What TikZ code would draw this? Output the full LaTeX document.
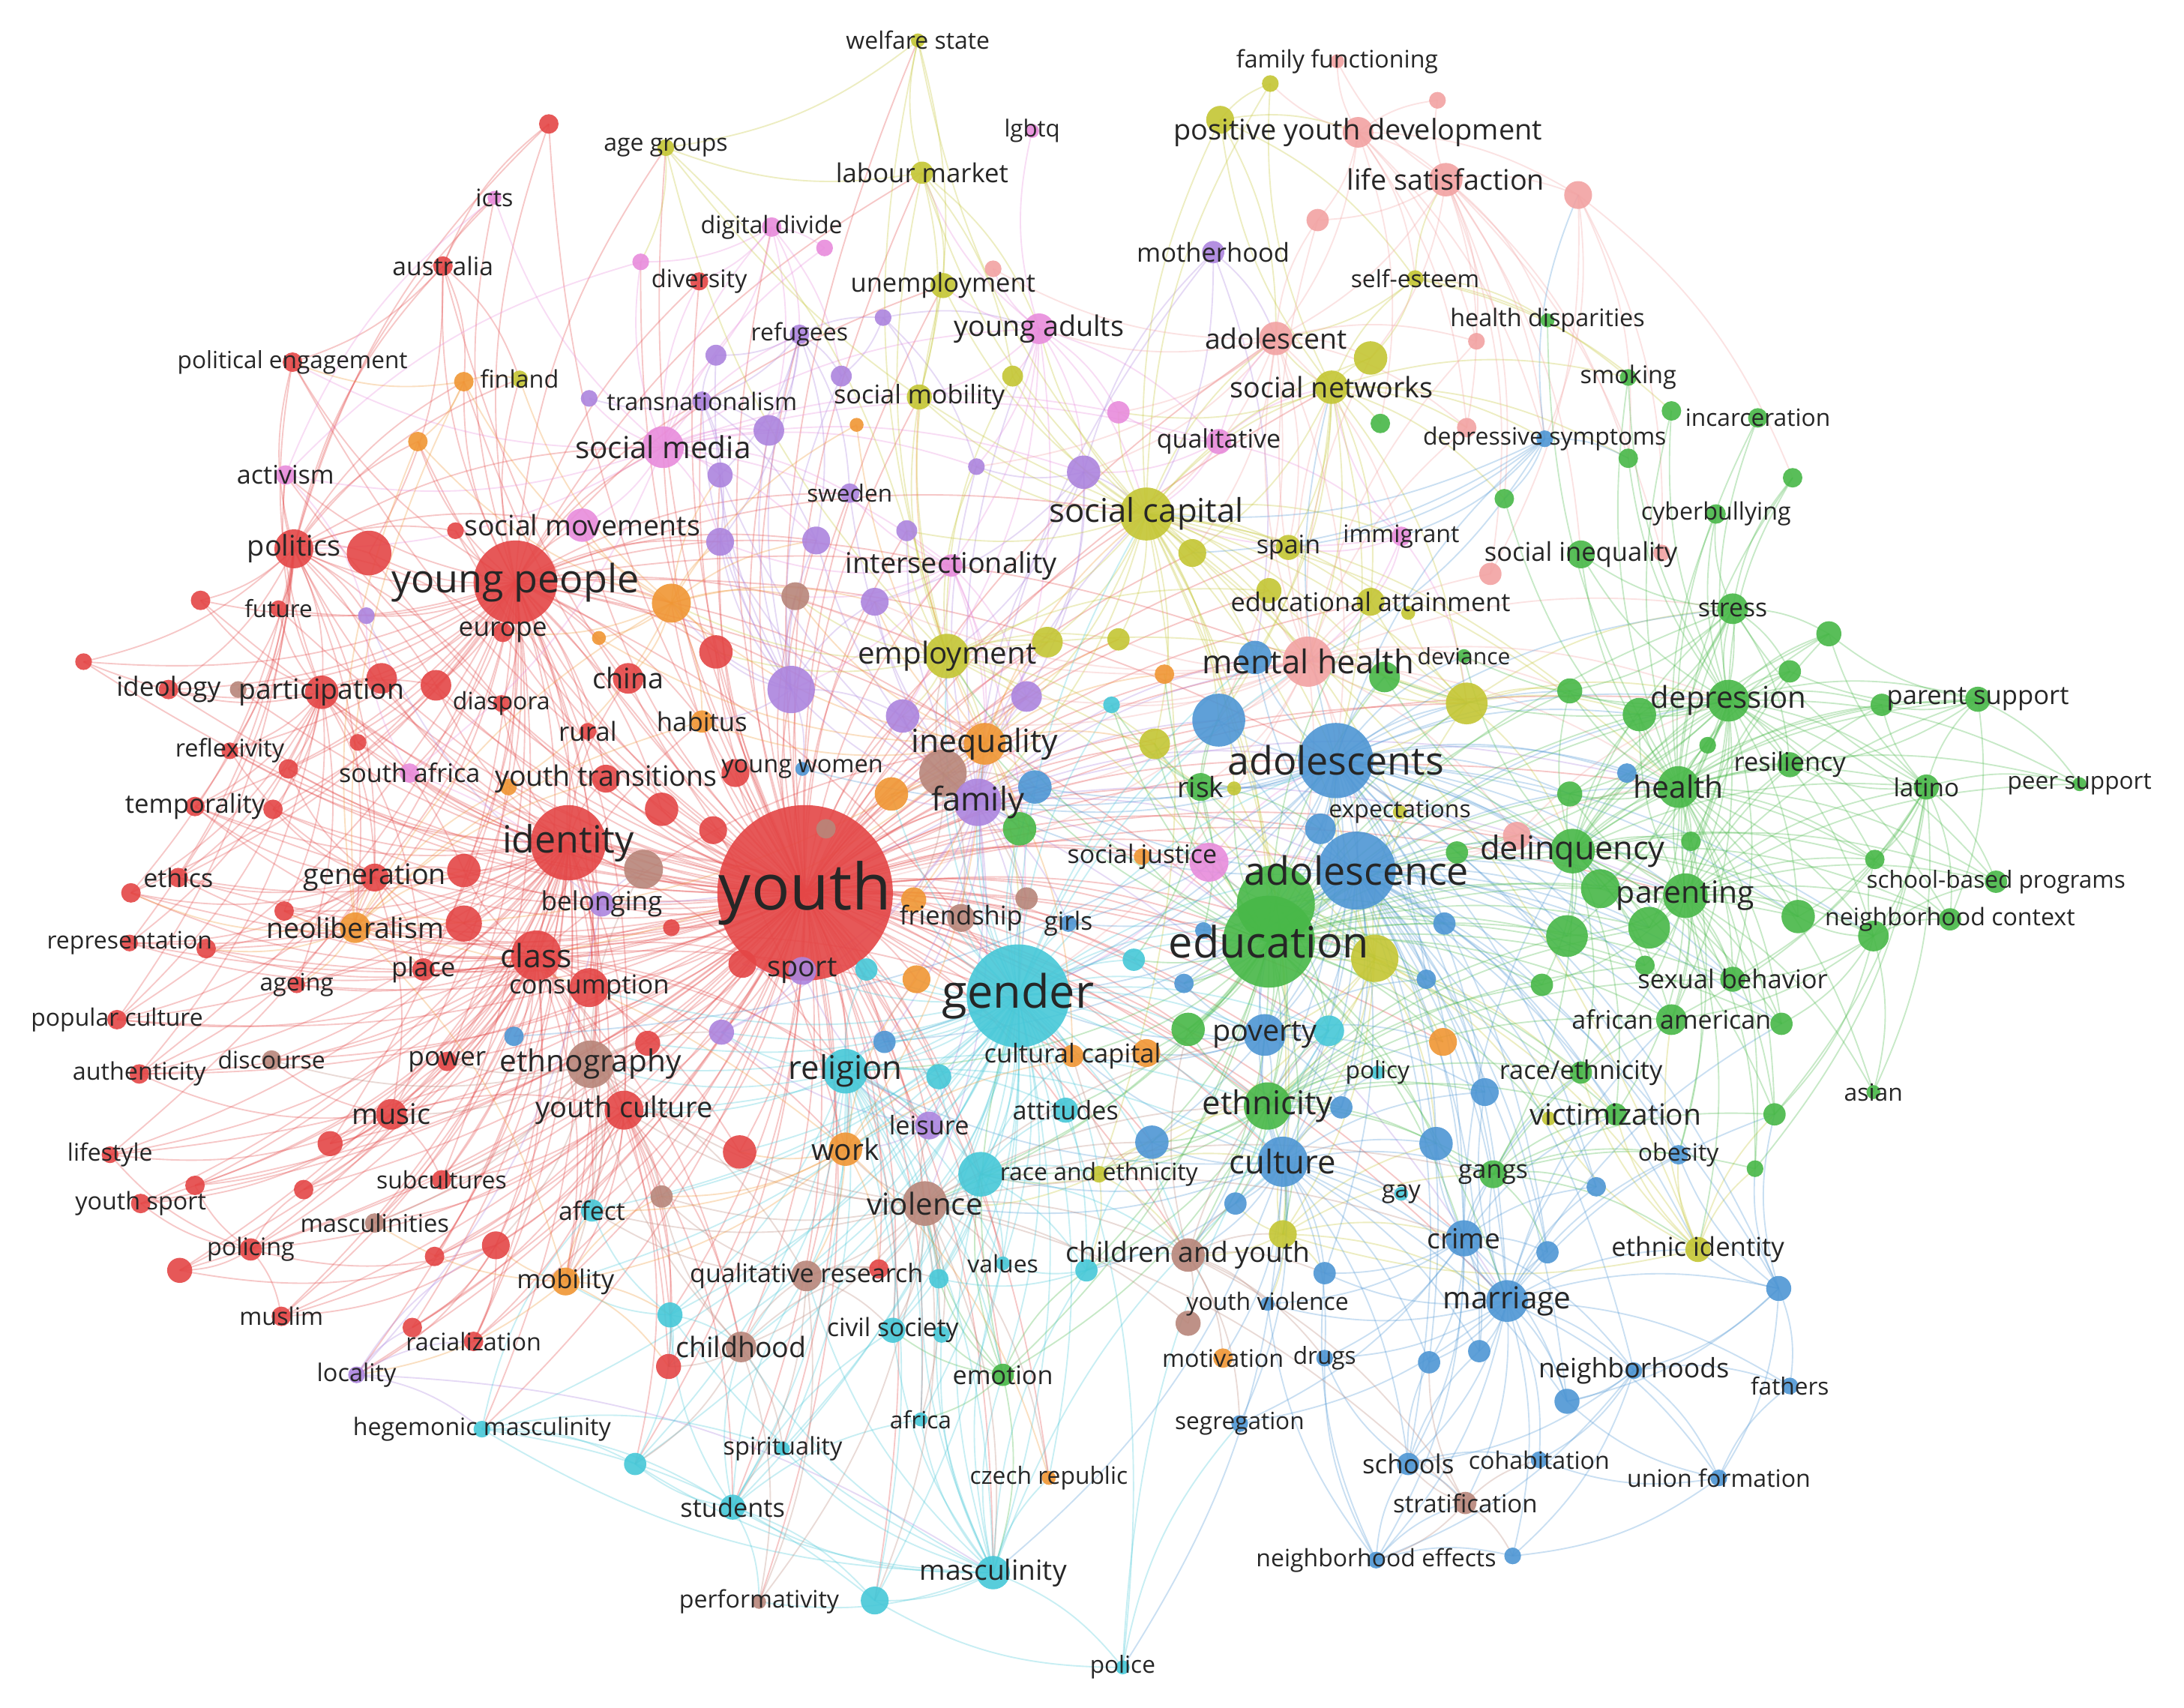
\documentclass[tikz,border=0pt]{standalone}
\usepackage{fontspec}
\setmainfont{Open Sans}
\pgfdeclarelayer{bg}\pgfdeclarelayer{edges}\pgfdeclarelayer{labels}
\pgfsetlayers{bg,edges,main,labels}
\definecolor{cR}{RGB}{228,70,70}
\definecolor{cG}{RGB}{72,184,72}
\definecolor{cB}{RGB}{78,150,212}
\definecolor{cY}{RGB}{196,198,52}
\definecolor{cP}{RGB}{172,132,222}
\definecolor{cC}{RGB}{70,200,216}
\definecolor{cO}{RGB}{240,150,52}
\definecolor{cBr}{RGB}{184,134,122}
\definecolor{cK}{RGB}{232,140,220}
\definecolor{cS}{RGB}{242,162,162}
\definecolor{labc}{RGB}{38,38,38}
\tikzset{
 kwdot/.style={circle,inner sep=0pt,draw=none,fill opacity=0.9},
 kwlab/.style={inner sep=0pt,text=labc},
 ed/.style={draw=#1,line width=1pt,draw opacity=0.3},
}
\newcommand\kwn[7]{\node[kwdot,fill=#4,minimum size=#5pt] (#1) at (#2,#3) {};
 \begin{pgfonlayer}{labels}\node[kwlab,font=\fontsize{#6}{#6}\selectfont] (#1-l) at (#2,#3) {#7};\end{pgfonlayer}}
\newcommand\kwu[5]{\node[kwdot,fill=#4,minimum size=#5pt] (#1) at (#2,#3) {};}
\newcommand\edfan[3]{\foreach \tg in {#3}{\draw[ed=#1] (#2.center) to[bend left=15] (\tg.center);}}
\begin{document}
\begin{tikzpicture}[x=1pt,y=-1pt]
\begin{pgfonlayer}{bg}
\fill[white] (0,0) rectangle (1568,1226);
\end{pgfonlayer}
\useasboundingbox (0,0) rectangle (1568,1226);
% ---------- big hubs first
\kwn{youth}{578}{641}{cR}{126}{46}{youth}
\kwn{gender}{731}{715}{cC}{74}{33}{gender}
\kwu{u101}{916}{649}{cG}{56}
\kwn{education}{911}{676}{cG}{66}{31}{education}
\kwn{adolescence}{974}{625}{cB}{56}{28}{adolescence}
\kwn{adolescents}{959}{546}{cB}{54}{28}{adolescents}
\kwn{youngpeople}{370}{418}{cR}{60}{28}{young people}
\kwn{identity}{408}{605}{cR}{54}{27}{identity}
% ---------- top
\kwn{welfare}{659}{29}{cY}{10}{17.2}{welfare state}
\kwn{agegroups}{478}{106}{cY}{12}{17.2}{age groups}
\kwn{lgbtq}{741}{94}{cK}{10}{16.8}{lgbtq}
\kwn{labour}{662}{124}{cY}{16}{18.7}{labour market}
\kwn{digital}{554}{163}{cK}{14}{17.3}{digital divide}
\kwu{u1}{592}{178}{cK}{12}
\kwu{u2}{460}{188}{cK}{12}
\kwn{diversity}{502}{202}{cR}{13}{17.5}{diversity}
\kwu{u3}{713}{193}{cS}{12}
\kwn{unemp}{677}{205}{cY}{18}{18.6}{unemployment}
\kwu{u4}{634}{228}{cP}{12}
\kwn{refugees}{574}{240}{cP}{14}{17.2}{refugees}
\kwu{u5}{514}{255}{cP}{15}
\kwn{youngadults}{746}{236}{cK}{22}{20.3}{young adults}
\kwu{u6}{604}{270}{cP}{15}
\kwu{u7}{727}{270}{cY}{15}
\kwn{socmob}{660}{285}{cY}{18}{18.5}{social mobility}
\kwu{u8}{423}{286}{cP}{12}
\kwn{transnat}{504}{288}{cP}{14}{17.4}{transnationalism}
\kwu{u9}{615}{305}{cO}{10}
\kwu{u10}{552}{309}{cP}{22}
\kwn{socmedia}{476}{321}{cK}{30}{21.8}{social media}
\kwu{u11}{517}{341}{cP}{18}
\kwu{u12}{701}{335}{cP}{12}
\kwu{u13}{778}{339}{cP}{24}
\kwn{sweden}{610}{354}{cP}{14}{17}{sweden}
\kwn{socmov}{418}{377}{cK}{24}{20.2}{social movements}
\kwu{u14}{517}{389}{cP}{20}
\kwu{u15}{586}{388}{cP}{20}
\kwu{u16}{651}{381}{cP}{15}
\kwn{intersect}{683}{406}{cK}{16}{20.4}{intersectionality}
% ---------- top left
\kwu{u17}{394}{89}{cR}{14}
\kwn{icts}{355}{142}{cK}{10}{17.3}{icts}
\kwn{australia}{318}{191}{cR}{14}{18.1}{australia}
\kwn{polengage}{210}{260}{cR}{14}{17}{political engagement}
\kwu{u18}{333}{274}{cO}{14}
\kwn{finland}{373}{272}{cY}{12}{17.4}{finland}
\kwu{u19}{300}{317}{cO}{14}
\kwn{activism}{205}{341}{cK}{14}{18.4}{activism}
\kwu{u20}{327}{381}{cR}{12}
\kwn{politics}{211}{394}{cR}{28}{20.4}{politics}
\kwu{u21}{265}{397}{cR}{32}
% ---------- top right
\kwn{famfunc}{960}{44}{cS}{10}{17.3}{family functioning}
\kwu{u22}{912}{60}{cY}{12}
\kwu{u23}{1032}{72}{cS}{12}
\kwu{u24}{876}{86}{cY}{20}
\kwn{pyd}{975}{95}{cS}{22}{20.4}{positive youth development}
\kwn{lifesat}{1038}{129}{cS}{24}{20.3}{life satisfaction}
\kwu{u25}{1133}{140}{cS}{20}
\kwu{u26}{946}{158}{cS}{16}
\kwn{motherhood}{871}{181}{cP}{16}{18.6}{motherhood}
\kwn{selfesteem}{1016}{200}{cY}{12}{17.1}{self-esteem}
\kwn{healthdisp}{1111}{230}{cG}{10}{17.4}{health disparities}
\kwu{u27}{1060}{245}{cS}{12}
\kwn{adolescent}{916}{243}{cS}{24}{20.1}{adolescent}
\kwu{u28}{984}{257}{cY}{24}
\kwn{socnet}{956}{278}{cY}{24}{20.3}{social networks}
\kwu{u29}{991}{304}{cG}{14}
\kwu{u30}{803}{296}{cK}{16}
\kwn{qualitative}{875}{317}{cK}{18}{18.3}{qualitative}
\kwu{u31}{1053}{307}{cS}{14}
\kwn{depsym}{1109}{315}{cB}{12}{17.2}{depressive symptoms}
\kwu{u32}{1080}{358}{cG}{14}
\kwn{soccap}{823}{369}{cY}{38}{23.5}{social capital}
\kwu{u33}{856}{397}{cY}{20}
\kwn{spain}{925}{393}{cY}{18}{18.3}{spain}
\kwn{immigrant}{1006}{385}{cK}{14}{17.3}{immigrant}
\kwn{socineq}{1135}{398}{cG}{20}{18.6}{social inequality}
\kwn{smoking}{1169}{271}{cG}{12}{17.5}{smoking}
\kwu{u34}{1200}{295}{cG}{14}
\kwn{incarc}{1262}{300}{cG}{14}{17.1}{incarceration}
\kwu{u35}{1287}{343}{cG}{14}
\kwn{cyberb}{1232}{369}{cG}{14}{17.3}{cyberbullying}
\kwu{u36}{1169}{329}{cG}{14}
\kwu{u37}{1193}{397}{cS}{12}
\kwu{u38}{1070}{412}{cS}{16}
% ---------- left
\kwu{u39}{144}{431}{cR}{14}
\kwn{future}{200}{437}{cR}{12}{17}{future}
\kwu{u40}{263}{442}{cP}{12}
\kwn{europe}{361}{454}{cR}{14}{19}{europe}
\kwu{u41}{60}{475}{cR}{12}
\kwn{ideology}{121}{495}{cR}{14}{19}{ideology}
\kwu{u42}{171}{495}{cBr}{12}
\kwn{particip}{231}{497}{cR}{24}{20.1}{participation}
\kwu{u43}{274}{487}{cR}{22}
\kwu{u44}{313}{492}{cR}{22}
\kwn{diaspora}{360}{505}{cR}{12}{17.2}{diaspora}
\kwu{u45}{257}{533}{cR}{12}
\kwn{reflex}{165}{539}{cR}{12}{17.5}{reflexivity}
\kwu{u46}{207}{552}{cR}{14}
\kwn{southafrica}{294}{555}{cK}{14}{18.4}{south africa}
\kwu{u47}{365}{565}{cO}{12}
\kwn{temporality}{140}{579}{cR}{14}{18.7}{temporality}
\kwu{u48}{196}{581}{cR}{14}
\kwu{u49}{333}{625}{cR}{24}
\kwn{ethics}{128}{630}{cR}{14}{18.3}{ethics}
\kwu{u50}{94}{641}{cR}{14}
\kwn{generation}{269}{630}{cR}{20}{20.3}{generation}
\kwu{u51}{204}{654}{cR}{14}
\kwn{neolib}{255}{666}{cO}{22}{20.2}{neoliberalism}
\kwu{u52}{333}{663}{cR}{26}
\kwn{repres}{93}{677}{cR}{12}{17.2}{representation}
\kwu{u53}{148}{681}{cR}{14}
\kwn{place}{304}{696}{cR}{16}{18.7}{place}
\kwn{ageing}{213}{707}{cR}{12}{17.2}{ageing}
\kwn{popcult}{84}{732}{cR}{14}{17.2}{popular culture}
\kwu{u54}{369}{744}{cB}{14}
\kwn{power}{321}{762}{cR}{14}{19}{power}
\kwn{discourse}{195}{761}{cBr}{14}{17.2}{discourse}
\kwn{authent}{100}{771}{cR}{14}{17.4}{authenticity}
\kwn{music}{281}{800}{cR}{22}{20.4}{music}
\kwn{class}{385}{686}{cR}{36}{23}{class}
% ---------- centre
\kwu{u55}{482}{433}{cO}{28}
\kwu{u56}{571}{428}{cBr}{20}
\kwu{u57}{628}{432}{cP}{20}
\kwu{u58}{430}{458}{cO}{10}
\kwu{u59}{514}{468}{cR}{24}
\kwn{china}{451}{487}{cR}{22}{20.3}{china}
\kwu{u60}{568}{495}{cP}{34}
\kwu{u61}{648}{514}{cP}{24}
\kwu{u62}{737}{500}{cP}{22}
\kwn{employment}{680}{471}{cY}{32}{21.7}{employment}
\kwu{u63}{752}{461}{cY}{22}
\kwn{habitus}{504}{518}{cO}{16}{18.7}{habitus}
\kwn{rural}{422}{525}{cR}{12}{18.8}{rural}
\kwu{u64}{528}{555}{cR}{20}
\kwn{youthtrans}{435}{559}{cR}{20}{20.2}{youth transitions}
\kwn{youngwomen}{576}{552}{cB}{10}{17.5}{young women}
\kwu{u65}{677}{555}{cBr}{34}
\kwn{inequality}{707}{534}{cO}{30}{23}{inequality}
\kwu{u66}{640}{570}{cO}{24}
\kwu{u67}{743}{565}{cB}{24}
\kwn{family}{702}{576}{cP}{34}{23.5}{family}
\kwu{u68}{732}{595}{cG}{24}
\kwu{u69}{475}{581}{cR}{24}
\kwu{u70}{512}{596}{cR}{20}
\kwu{u71}{593}{595}{cBr}{14}
\kwu{u72}{462}{624}{cBr}{28}
\kwn{belonging}{432}{649}{cP}{18}{18.9}{belonging}
\kwu{u73}{482}{666}{cR}{12}
\kwu{u74}{656}{646}{cO}{18}
\kwn{friendship}{690}{659}{cBr}{20}{18.6}{friendship}
\kwu{u75}{737}{645}{cBr}{16}
\kwn{girls}{767}{663}{cB}{12}{18}{girls}
\kwu{u76}{533}{692}{cR}{20}
\kwn{sport}{576}{697}{cP}{20}{20.4}{sport}
\kwn{consumption}{423}{709}{cR}{28}{18.7}{consumption}
\kwu{u77}{622}{696}{cC}{16}
\kwu{u78}{658}{703}{cO}{20}
\kwu{u79}{518}{741}{cP}{18}
\kwu{u80}{465}{749}{cR}{18}
\kwu{u81}{635}{748}{cB}{16}
\kwn{ethnography}{424}{764}{cBr}{34}{21.8}{ethnography}
\kwn{religion}{607}{769}{cC}{32}{23.5}{religion}
\kwu{u82}{674}{773}{cC}{18}
\kwn{culturalcap}{770}{758}{cO}{16}{18.6}{cultural capital}
\kwn{youthculture}{448}{797}{cR}{28}{20.5}{youth culture}
\kwn{leisure}{667}{808}{cP}{20}{18.5}{leisure}
\kwn{attitudes}{765}{797}{cC}{18}{18.4}{attitudes}
% ---------- centre right
\kwu{u83}{911}{424}{cY}{18}
\kwn{eduattain}{984}{432}{cY}{20}{18.5}{educational attainment}
\kwu{u84}{1011}{440}{cY}{10}
\kwu{u85}{803}{459}{cY}{16}
\kwu{u86}{901}{472}{cB}{24}
\kwn{mentalhealth}{939}{475}{cS}{36}{23.5}{mental health}
\kwn{deviance}{1051}{471}{cG}{10}{16.2}{deviance}
\kwu{u87}{994}{486}{cG}{22}
\kwu{u88}{836}{484}{cO}{14}
\kwu{u89}{798}{506}{cC}{12}
\kwu{u90}{1053}{505}{cY}{30}
\kwu{u91}{875}{517}{cB}{38}
\kwu{u92}{829}{534}{cY}{22}
\kwn{risk}{862}{565}{cG}{20}{20}{risk}
\kwu{u93}{886}{566}{cY}{10}
\kwu{u94}{1127}{496}{cG}{18}
\kwu{u95}{1168}{555}{cB}{14}
\kwu{u96}{1127}{570}{cG}{18}
\kwn{expectations}{1005}{583}{cY}{10}{17.2}{expectations}
\kwu{u97}{948}{595}{cB}{22}
\kwu{u98}{868}{619}{cK}{28}
\kwn{socjustice}{820}{615}{cO}{12}{18.3}{social justice}
\kwu{u99}{1089}{600}{cS}{20}
\kwu{u100}{1046}{612}{cG}{16}
\kwn{delinquency}{1129}{611}{cG}{32}{23.4}{delinquency}
\kwu{u102}{1149}{638}{cG}{28}
\kwu{u103}{1037}{663}{cB}{16}
\kwu{u104}{987}{688}{cY}{34}
\kwu{u105}{814}{689}{cC}{16}
\kwu{u106}{864}{668}{cB}{12}
\kwu{u107}{1125}{672}{cG}{30}
\kwu{u108}{1107}{707}{cG}{16}
\kwu{u109}{850}{706}{cB}{14}
\kwu{u110}{1024}{703}{cB}{14}
\kwu{u111}{853}{739}{cG}{24}
\kwn{poverty}{908}{743}{cB}{30}{21.3}{poverty}
\kwu{u112}{954}{740}{cC}{22}
\kwu{u113}{1036}{748}{cO}{20}
\kwu{u114}{823}{756}{cO}{20}
\kwn{policy}{989}{770}{cC}{10}{17}{policy}
\kwu{u115}{1066}{784}{cB}{20}
\kwn{ethnicity}{910}{794}{cG}{34}{23.5}{ethnicity}
\kwu{u116}{963}{795}{cB}{16}
\kwn{raceeth}{1135}{770}{cG}{16}{18.5}{race/ethnicity}
\kwn{victim}{1160}{800}{cG}{16}{21}{victimization}
\kwu{u117}{1112}{803}{cY}{10}
\kwu{u118}{1177}{513}{cG}{24}
% ---------- right
\kwn{stress}{1244}{437}{cG}{22}{18.2}{stress}
\kwu{u119}{1313}{455}{cG}{18}
\kwu{u120}{1285}{482}{cG}{16}
\kwn{depression}{1241}{503}{cG}{30}{21.6}{depression}
\kwu{u122}{1226}{535}{cG}{12}
\kwu{u123}{1351}{506}{cG}{16}
\kwn{parentsupport}{1420}{502}{cG}{18}{18.6}{parent support}
\kwn{resiliency}{1285}{549}{cG}{18}{18.5}{resiliency}
\kwn{health}{1205}{565}{cG}{30}{22}{health}
\kwn{latino}{1383}{565}{cG}{18}{17.9}{latino}
\kwn{peersupport}{1493}{563}{cG}{10}{17}{peer support}
\kwu{u124}{1214}{604}{cG}{14}
\kwu{u125}{1346}{617}{cG}{14}
\kwn{schoolbased}{1433}{633}{cG}{16}{17}{school-based programs}
\kwn{parenting}{1210}{643}{cG}{32}{22}{parenting}
\kwu{u126}{1184}{666}{cG}{30}
\kwu{u127}{1291}{658}{cG}{24}
\kwn{neighcontext}{1400}{660}{cG}{16}{17.3}{neighborhood context}
\kwu{u128}{1345}{672}{cG}{22}
\kwn{sexbeh}{1244}{703}{cG}{18}{18.6}{sexual behavior}
\kwu{u129}{1181}{693}{cG}{14}
\kwn{afram}{1200}{732}{cG}{22}{18.3}{african american}
\kwu{u130}{1279}{735}{cG}{16}
\kwn{asian}{1345}{784}{cG}{10}{17.1}{asian}
\kwu{u131}{1274}{800}{cG}{16}
% ---------- bottom left
\kwn{lifestyle}{79}{829}{cR}{12}{17.2}{lifestyle}
\kwu{u132}{237}{821}{cR}{18}
\kwu{u133}{140}{851}{cR}{14}
\kwu{u134}{218}{854}{cR}{14}
\kwn{youthsport}{101}{864}{cR}{14}{17.4}{youth sport}
\kwn{subcult}{317}{847}{cR}{14}{17.2}{subcultures}
\kwn{masculinities}{269}{878}{cBr}{14}{17.6}{masculinities}
\kwn{policing}{180}{897}{cR}{16}{17.4}{policing}
\kwu{u135}{129}{912}{cR}{18}
\kwu{u136}{356}{894}{cR}{20}
\kwu{u137}{312}{902}{cR}{14}
\kwn{muslim}{202}{945}{cR}{14}{17.4}{muslim}
\kwu{u138}{296}{953}{cR}{14}
\kwn{racial}{340}{963}{cR}{14}{17.4}{racialization}
\kwn{locality}{256}{987}{cP}{12}{17.5}{locality}
\kwn{hegemas}{346}{1026}{cC}{12}{17.3}{hegemonic masculinity}
% ---------- bottom centre
\kwn{work}{607}{825}{cO}{24}{21}{work}
\kwu{u139}{531}{827}{cR}{24}
\kwu{u140}{704}{843}{cC}{32}
\kwn{raceandeth}{789}{843}{cY}{12}{17.2}{race and ethnicity}
\kwu{u141}{475}{859}{cBr}{16}
\kwn{affect}{425}{869}{cC}{16}{18.2}{affect}
\kwn{violence}{664}{864}{cBr}{32}{21.7}{violence}
\kwn{mobility}{406}{920}{cO}{20}{18.6}{mobility}
\kwn{qualres}{579}{916}{cBr}{22}{18.3}{qualitative research}
\kwu{u142}{631}{911}{cR}{14}
\kwu{u143}{674}{918}{cC}{14}
\kwn{values}{720}{907}{cC}{10}{17.2}{values}
\kwu{u144}{780}{912}{cC}{16}
\kwu{u145}{481}{944}{cC}{18}
\kwn{civilsoc}{641}{955}{cC}{18}{18.1}{civil society}
\kwu{u146}{676}{958}{cC}{12}
\kwn{childhood}{532}{967}{cBr}{22}{20.2}{childhood}
\kwu{u147}{480}{981}{cR}{18}
\kwn{emotion}{720}{987}{cG}{16}{18.4}{emotion}
\kwn{africa}{661}{1019}{cC}{10}{17.1}{africa}
\kwu{u148}{456}{1051}{cC}{16}
\kwn{spirit}{562}{1040}{cC}{10}{17.5}{spirituality}
\kwn{czech}{753}{1061}{cO}{10}{17.1}{czech republic}
\kwn{students}{526}{1082}{cC}{18}{18.5}{students}
\kwn{masculinity}{713}{1129}{cC}{24}{20}{masculinity}
\kwu{u149}{628}{1149}{cC}{20}
\kwn{perform}{545}{1150}{cBr}{10}{17.3}{performativity}
% ---------- bottom right
\kwn{culture}{921}{834}{cB}{36}{23.5}{culture}
\kwu{u150}{827}{820}{cB}{24}
\kwu{u151}{1031}{821}{cB}{24}
\kwn{gangs}{1072}{843}{cG}{20}{18.2}{gangs}
\kwn{gay}{1006}{857}{cC}{10}{17.3}{gay}
\kwu{u152}{1146}{852}{cB}{14}
\kwu{u153}{887}{864}{cB}{16}
\kwu{u154}{921}{886}{cY}{20}
\kwn{childyouth}{853}{901}{cBr}{24}{20}{children and youth}
\kwn{crime}{1051}{889}{cB}{26}{20}{crime}
\kwu{u155}{1111}{899}{cB}{16}
\kwu{u156}{951}{914}{cB}{16}
\kwn{youthviol}{910}{936}{cB}{10}{17.2}{youth violence}
\kwn{marriage}{1082}{934}{cB}{30}{21.8}{marriage}
\kwu{u157}{853}{950}{cBr}{18}
\kwn{motivation}{878}{975}{cO}{14}{17.4}{motivation}
\kwn{drugs}{951}{975}{cB}{12}{17}{drugs}
\kwu{u158}{1026}{978}{cB}{16}
\kwu{u159}{1062}{970}{cB}{16}
\kwn{neighborhoods}{1173}{984}{cB}{12}{19.2}{neighborhoods}
\kwu{u160}{1125}{1006}{cB}{18}
\kwn{segregation}{890}{1022}{cB}{12}{17}{segregation}
\kwn{schools}{1011}{1051}{cB}{16}{18.8}{schools}
\kwn{cohab}{1105}{1048}{cB}{12}{17.3}{cohabitation}
\kwn{strat}{1052}{1079}{cBr}{16}{17.8}{stratification}
\kwn{neigheff}{988}{1120}{cB}{12}{17.2}{neighborhood effects}
\kwu{u161}{1086}{1117}{cB}{12}
\kwn{police}{806}{1197}{cC}{10}{17}{police}
\kwn{obesity}{1205}{829}{cB}{14}{17.2}{obesity}
\kwu{u162}{1260}{839}{cG}{12}
\kwn{ethnicid}{1219}{897}{cY}{18}{18.7}{ethnic identity}
\kwu{u163}{1277}{925}{cB}{18}
\kwn{fathers}{1285}{995}{cB}{12}{17}{fathers}
\kwn{unionform}{1234}{1061}{cB}{12}{17.3}{union formation}
% ================= edges
\begin{pgfonlayer}{edges}
% red
\edfan{cR}{youth}{youngpeople,identity,class,politics,u21,particip,generation,neolib,u52,u49,china,u59,u64,youthtrans,u69,u70,consumption,u76,u80,youthculture,music,ethnography,place,power,ageing,discourse,authent,popcult,repres,ethics,temporality,reflex,ideology,future,europe,diaspora,rural,habitus,u55,u56,u57,u60,u61,employment,inequality,family,gender,education,adolescents,adolescence,religion,work,violence,childhood,qualres,mobility,affect,subcult,masculinities,policing,muslim,racial,u136,u139,u147,socmedia,socmov,socmob,labour,unemp,diversity,australia,polengage,activism,lifestyle,youthsport,leisure,sport,friendship,culturalcap,soccap,mentalhealth,intersect,poverty,ethnicity,culture,childyouth,delinquency,health,marriage,masculinity,students,civilsoc,u105,u98,u92,u91,u86,u85,u83,u63,u62,u67,u68,u65,u66,u74,u75,u78,u77,u79,u81,u82,u140,u141,u145,u148,u132,u133,u134,u135,u137,u138,u39,u41,u42,u43,u44,u45,u46,u48,u50,u51,u53,u54,u17,u18,u19,u20,u47,belonging,southafrica,youngwomen,girls,attitudes,hegemas,locality,spirit,perform,u72,u73,transnat,refugees,u10,u11,u14,u15,u16,sweden,agegroups,welfare,u2,digital,u142,u143,values,emotion,africa,czech,u149,u114,u113,u112,u111,u150,crime,depression,parenting,u104,u90,adolescent,socnet,u33,spain,eduattain,risk,u97,socjustice,u109,u106}
\edfan{cR}{youngpeople}{identity,class,politics,u21,particip,generation,neolib,u52,u49,china,u59,europe,diaspora,future,ideology,u39,u41,u43,u44,reflex,temporality,ethics,u50,australia,polengage,activism,u17,icts,u18,u19,u20,socmov,socmedia,finland,transnat,youthtrans,rural,u69,u45,u46,u48,southafrica,music,place,power,youthculture,consumption,ethnography,employment,inequality,family,education,gender,soccap,intersect,u55,u58,habitus,subcult,u132,lifestyle,authent,popcult,mobility,work,u40,u42,diversity,agegroups,labour,unemp,sweden,u14,u15,mentalhealth,adolescents}
\edfan{cR}{identity}{class,generation,neolib,u52,u49,belonging,u72,place,consumption,music,youthculture,ethnography,power,discourse,popcult,authent,repres,ethics,temporality,reflex,u46,u48,u51,u53,ageing,youthtrans,china,rural,diaspora,southafrica,u45,u43,u44,particip,politics,religion,gender,masculinities,subcult,affect,mobility,racial,muslim,policing,u136,u137,u138,locality,hegemas,u134,u133,u135,lifestyle,youthsport,u132,culturalcap,ethnicity}
\edfan{cR}{class}{generation,neolib,u52,u49,place,ageing,power,music,youthculture,ethnography,consumption,u80,u54,discourse,authent,popcult,repres,u53,u51,u50,ethics,temporality,habitus,culturalcap,gender,education,inequality,work,u139,mobility,affect,subcult,masculinities,u136,u137,racial,muslim,policing,u135,youthsport,lifestyle,u134,u133,u132,childhood,u147,u145,leisure,sport,religion}
\edfan{cR}{politics}{u21,particip,activism,polengage,australia,u17,icts,u39,future,u41,ideology,u42,u43,u44,europe,diaspora,socmov,u20,generation,neolib,temporality,reflex,ethics,u50,repres,popcult,u18,u19,finland,socmedia,u40}
\edfan{cR}{particip}{u43,u44,u45,u46,u48,u51,reflex,temporality,ideology,u41,u39,future,polengage,activism,generation,u49,place,ageing,ethics,u50,repres,popcult,authent}
\edfan{cR}{generation}{u49,u52,temporality,reflex,ethics,u50,u51,u53,repres,ageing,place,u48,u46,authent,popcult,music}
\edfan{cR}{music}{lifestyle,u132,u133,u134,youthsport,subcult,youthculture,power,discourse,authent}
\edfan{cR}{youthculture}{subcult,masculinities,u136,u137,policing,muslim,racial,u138,mobility,affect,u141,u139,u147,u145,u148,childhood,students}
\edfan{cR}{u136}{racial,u138,muslim,u135,policing,locality}
\edfan{cR}{policing}{u135,muslim,u134,u133,youthsport,lifestyle}
\edfan{cR}{australia}{u17,icts,polengage,u21,finland,u18}
% pink
\edfan{cK}{socmedia}{u2,digital,u1,diversity,icts,activism,transnat,u8,u5,refugees,u10,u11,u14,u15,socmov,youngadults,sweden,intersect,u12,u13,polengage,politics,u30,qualitative,southafrica}
\edfan{cK}{youngadults}{lgbtq,u7,u13,u12,socmob,unemp,labour,u3,u30,soccap,employment,family,intersect,qualitative}
\edfan{cK}{intersect}{u16,u15,u14,sweden,u61,u62,u57,family,inequality,gender,u56,u60}
\edfan{cK}{digital}{u1,u2,refugees,u5,u6,u10,diversity}
\edfan{cK}{activism}{u2,u40,icts}
\edfan{cK}{qualitative}{soccap,u13,u30,socnet,adolescent,immigrant}
\edfan{cK}{u98}{education,adolescence,adolescents,socjustice,gender}
\edfan{cK}{immigrant}{socnet,spain,soccap,eduattain,u90,mentalhealth}
\edfan{cK}{southafrica}{u40,belonging}
% purple
\edfan{cP}{family}{u65,u66,u67,u68,u62,u61,u57,u60,employment,inequality,gender,education,adolescents,adolescence,u74,u75,friendship,girls,motherhood,youngadults,soccap,u13,u12,u16,sweden,u15,u14,u11,belonging,sport,leisure,religion,u79,u81,violence,health,parenting,marriage,u63,mentalhealth,u86,u91}
\edfan{cP}{u60}{u61,u57,u56,u55,u15,u14,u11,u10,u6,refugees,u5,transnat,u59,habitus,youngwomen}
\edfan{cP}{refugees}{u5,u6,u10,u11,transnat,u4,u14,u15,sweden}
\edfan{cP}{u13}{motherhood,u12,u57,u62,soccap,employment,u63}
\edfan{cP}{transnat}{u8,u11,u14,u5,u10,u15}
\edfan{cP}{motherhood}{adolescent,soccap,u86}
\edfan{cP}{u4}{youngadults,socmob,u12,u6}
\edfan{cP}{belonging}{u72,u40,locality}
\edfan{cP}{locality}{u136,racial,u138,hegemas,masculinity}
\edfan{cP}{leisure}{sport,religion,work,u79}
\edfan{cP}{sport}{u76,u79,u77}
% yellow
\edfan{cY}{soccap}{u13,u33,u83,u85,u63,u7,socmob,employment,socnet,u28,adolescent,spain,eduattain,u84,u90,u92,u91,u86,mentalhealth,adolescents,education,u104,u93,expectations,youngadults,u30,u24,u22,labour,unemp,welfare,agegroups,family,inequality,u12,u16,immigrant,ethnicid,raceandeth,u154,culture,health,u94,u87}
\edfan{cY}{employment}{u63,u7,socmob,unemp,labour,u61,u62,u57,u56,u55,u16,u12,inequality,education,gender,u85,u83,u92,u104,u90,welfare,agegroups,u59}
\edfan{cY}{labour}{welfare,agegroups,unemp,socmob,u7,youngadults}
\edfan{cY}{welfare}{agegroups,socmob}
\edfan{cY}{agegroups}{u2,u16}
\edfan{cY}{socnet}{u28,adolescent,selfesteem,u29,u31,u30,u24,u22,spain,u33,eduattain,u90,mentalhealth,adolescents,u91,u86,u32,u36,depsym,smoking}
\edfan{cY}{u24}{pyd,u22,adolescent,selfesteem}
\edfan{cY}{selfesteem}{lifesat,smoking,u34,healthdisp,adolescent,u28}
\edfan{cY}{u104}{education,adolescence,adolescents,u90,u93,u92,expectations,ethnicid,raceandeth,u154,culture,poverty,u112,ethnicity,victim,u117,u151,u113}
\edfan{cY}{ethnicid}{victim,u117,raceeth,obesity,u162,afram,u131,u154}
\edfan{cY}{u90}{eduattain,u84,u83,mentalhealth,adolescents,depression,delinquency,u94,u118,stress,u87}
\edfan{cY}{u154}{culture,childyouth,crime,gangs,u153,u156,youthviol,marriage,u151}
\edfan{cY}{raceandeth}{u140,violence,u144,culture,u150,childyouth,ethnicity}
% salmon
\edfan{cS}{mentalhealth}{u86,u91,adolescents,adolescence,education,adolescent,u26,socnet,u28,u38,u31,u27,u99,depression,stress,health,u94,u87,deviance,u90,eduattain,u83,u85,u88,u89,risk,youth,gender,family,u56,u57,u61,u62}
\edfan{cS}{pyd}{famfunc,u23,lifesat,u25,u26,adolescent,u22,u29,u31,u27,depsym,selfesteem}
\edfan{cS}{lifesat}{famfunc,u23,u25,u26,adolescent,u27,u31,u38,u37,socineq,depsym,healthdisp,u32,u36,u28}
\edfan{cS}{adolescent}{u26,u27,u31,u28,u30,soccap,u13,youngadults,u3,u12,u33,spain,immigrant,adolescents,u91}
\edfan{cS}{u25}{u37,u36,u35,depsym,u38}
\edfan{cS}{u99}{delinquency,u100,adolescence,adolescents,depression,parenting,health}
% blue
\edfan{cB}{adolescents}{adolescence,u91,u86,u97,u103,u95,u106,u109,u110,education,u101,risk,u93,expectations,depression,health,delinquency,parenting,u118,u96,u94,u87,deviance,u90,poverty,culture,ethnicity,marriage,crime,u115,u116,gender,family,socnet,depsym,stress,obesity,u152,u155,u163,afram,sexbeh,u127,u128,u102,u107,u126,youngwomen,girls,u67,u81,u54}
\edfan{cB}{adolescence}{u101,education,u97,u103,u91,u86,u106,u109,u110,u116,u115,poverty,culture,crime,marriage,u151,u150,u153,u156,ethnicity,delinquency,parenting,health,depression,u102,u107,u108,u126,u129,sexbeh,afram,u130,victim,raceeth,gangs,u152,u155,u158,u159,u160,schools,neighborhoods,family,gender,u67,u81,girls,obesity,ethnicid,u163}
\edfan{cB}{culture}{u150,u151,u153,u156,crime,marriage,gay,gangs,u154,childyouth,youthviol,drugs,motivation,segregation,u158,u159,u160,schools,u116,u115,poverty,ethnicity,u112,policy,education,gender,religion,u140,u144,violence,masculinity,police}
\edfan{cB}{marriage}{crime,u155,u152,u160,neighborhoods,fathers,unionform,cohab,schools,strat,neigheff,u161,u158,u159,u163,obesity,ethnicid,gangs,u151,u156,drugs,segregation,youthviol,afram,victim,u131,u130,u115}
\edfan{cB}{crime}{gangs,u151,u155,u152,u156,drugs,youthviol,schools,neighborhoods,u160,u159,u158,segregation,neigheff,victim,raceeth,delinquency}
\edfan{cB}{u163}{fathers,unionform,neighborhoods,obesity,ethnicid,u160,u131,u162}
\edfan{cB}{neighborhoods}{fathers,unionform,cohab,u160,u161,neigheff,schools}
\edfan{cB}{unionform}{cohab,u161,fathers,u160}
\edfan{cB}{neigheff}{schools,strat,u161,youthviol,drugs,u156}
\edfan{cB}{schools}{strat,cohab,u158,u159,drugs}
\edfan{cB}{depsym}{u36,u32,immigrant,soccap,spain,u33,mentalhealth,u25}
\edfan{cB}{poverty}{u112,u113,u111,education,ethnicity,policy,u116,u115,u105,u109,u110,childyouth,gender,u114,culturalcap}
% green
\edfan{cG}{education}{u111,ethnicity,poverty,u112,u113,u114,u105,u106,u109,u110,u103,u104,risk,u92,u93,u89,u88,socjustice,inequality,employment,delinquency,parenting,health,depression,u102,u107,u108,u100,u99,u126,u129,u127,sexbeh,afram,u130,raceeth,victim,u117,crime,marriage,childyouth,u154,u150,u151,religion,culturalcap,attitudes,u144,u140,violence,emotion,eduattain,u90,u87,u94,u96,u118,stress}
\edfan{cG}{delinquency}{u100,u102,u107,u108,u96,u94,u118,u95,health,parenting,depression,u126,u127,u128,u129,sexbeh,afram,u130,u131,victim,raceeth,gangs,u124,resiliency,latino,stress,u120,u122,u119,u125,neighcontext,schoolbased,u123,parentsupport,deviance,u87}
\edfan{cG}{depression}{stress,u119,u120,u118,u122,u123,parentsupport,resiliency,health,latino,peersupport,parenting,u124,u125,u126,u127,u128,schoolbased,neighcontext,sexbeh,afram,u94,u96,u102,u107,cyberb,socineq,u35,u36,u34,incarc,smoking,deviance,u87,u100}
\edfan{cG}{parenting}{u126,u127,u128,u102,u107,u108,u129,sexbeh,afram,u130,u131,asian,latino,u125,schoolbased,neighcontext,peersupport,parentsupport,u123,resiliency,u124,health,u96,u118,stress,u119,u120,u122,victim,raceeth,ethnicid,u162,obesity}
\edfan{cG}{health}{u124,resiliency,u122,u120,u119,stress,u118,u96,u95,u94,u102,u126,u127,u128,sexbeh,afram,u130,latino,u125,neighcontext,schoolbased,parentsupport,u123,peersupport,asian,obesity,u162,u131,smoking,u34,incarc,u35,cyberb,socineq,u32,healthdisp}
\edfan{cG}{latino}{peersupport,parentsupport,u123,u125,schoolbased,neighcontext,u128,u127,asian,u119,resiliency,stress,afram,sexbeh,u131,u162}
\edfan{cG}{u128}{neighcontext,schoolbased,u125,asian,u130,u131,afram,sexbeh,u127}
\edfan{cG}{parentsupport}{u123,peersupport,u119,u120,resiliency,neighcontext}
\edfan{cG}{stress}{u119,u120,u118,u122,u94,u96,resiliency,cyberb,u35,socineq}
\edfan{cG}{ethnicity}{u111,u116,u115,policy,u112,gangs,u150,u151,u153,childyouth,u154,raceeth,victim,afram,sexbeh,u129,u108,u126,u107,emotion,u144,u140,raceandeth}
\edfan{cG}{gangs}{u152,victim,raceeth,obesity,u131,ethnicid,u162,afram,u151,u155}
\edfan{cG}{risk}{u93,u92,u91,u86,u97,u106,u101,u89,u105}
\edfan{cG}{emotion}{u143,civilsoc,africa,u146,violence,masculinity,u140,gender,u144}
\edfan{cG}{u101}{u97,u103,u106,u109,u110,u111,u112,u104,ethnicity,poverty,u98}
% cyan
\edfan{cC}{gender}{u140,u77,u105,u82,religion,u81,attitudes,culturalcap,u78,u74,friendship,u75,girls,u66,u65,u67,u68,family,inequality,education,adolescence,adolescents,u89,u109,u106,poverty,u112,u111,ethnicity,culture,u150,u144,raceandeth,childyouth,violence,work,leisure,u79,sport,masculinity,u149,students,u148,u145,civilsoc,u146,values,u143,africa,spirit,czech,police,hegemas,affect,u141,u139,qualres,childhood,u142,u147,emotion,mobility,ethnography,youthculture,consumption,u80,employment,soccap,mentalhealth,u86,u91}
\edfan{cC}{religion}{u82,leisure,u79,u81,u77,attitudes,u140,violence,work,qualres,civilsoc,u143,u146,values,africa,spirit,students,masculinity,u149,u145,childhood,u148,emotion,culture,ethnicity,youthculture,ethnography}
\edfan{cC}{masculinity}{u149,students,perform,spirit,africa,civilsoc,u146,u143,values,czech,police,violence,u140,u144,emotion,hegemas,u148,u145,childhood,qualres,culture}
\edfan{cC}{u140}{violence,raceandeth,u144,values,u143,civilsoc,attitudes,u82,culturalcap,childyouth}
\edfan{cC}{hegemas}{u148,u149,students,spirit,affect}
\edfan{cC}{students}{u148,u145,spirit,perform,childhood,qualres,u149,civilsoc,africa}
\edfan{cC}{police}{u149,segregation,u112}
\edfan{cC}{u145}{affect,childhood,u147,u148,mobility}
\edfan{cC}{u144}{childyouth,values,u143,u150}
% brown
\edfan{cBr}{violence}{qualres,childhood,u142,u143,civilsoc,u146,values,africa,masculinity,u149,perform,u141,affect,work,leisure,childyouth,u157,strat,u150,crime,gangs,ethnicity,poverty,u139,youthculture,ethnography,czech}
\edfan{cBr}{childhood}{qualres,u147,perform,spirit,u148,u141,u142,ethnography}
\edfan{cBr}{ethnography}{u141,youthculture,u80,consumption,u79,u72,affect,mobility,masculinities,discourse,power,music,subcult,u136,qualres}
\edfan{cBr}{childyouth}{u157,motivation,youthviol,u150,u153,u154,u156,drugs,segregation,strat,u111,u112,culturalcap}
\edfan{cBr}{qualres}{u142,u143,civilsoc,perform,students,u141,affect}
\edfan{cBr}{strat}{schools,neigheff,cohab,u161,u158}
\edfan{cBr}{u65}{inequality,u66,u67,u68,u74,u75,friendship,employment,u61,u62}
% orange
\edfan{cO}{inequality}{u66,u67,u68,u74,u62,u61,u57,u63,u92,u85,u88,class,neolib,work,culturalcap,habitus,u55,u58,u56,soccap,u9,socmob}
\edfan{cO}{neolib}{u47,u49,u52,generation,u50,u51,u53,place,ageing,youthtrans,habitus,mobility,u18,u19,work,u55}
\edfan{cO}{work}{u139,u142,mobility,affect,u141,qualres,u78,u82,czech,u114}
\edfan{cO}{u55}{u58,u59,u56,habitus,china,europe,socmov,u18,u19,finland,u9,u47,u57,u11,u14,u15}
\edfan{cO}{mobility}{affect,u141,u145,u147,masculinities,u136,locality}
\edfan{cO}{u18}{finland,u19,polengage}
\end{pgfonlayer}
\end{tikzpicture}
\end{document}
